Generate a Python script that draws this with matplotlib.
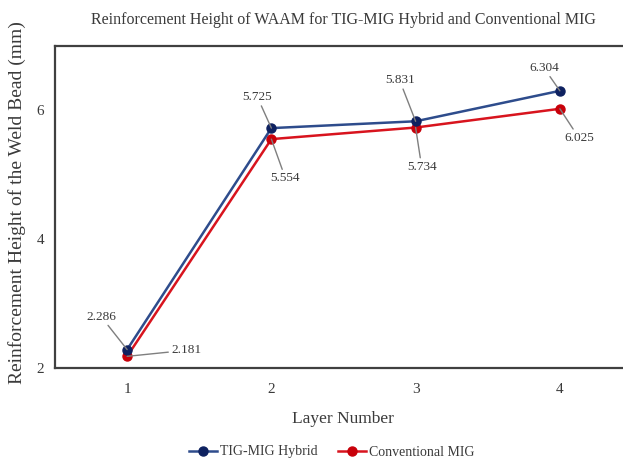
import matplotlib
matplotlib.use('Agg')
import matplotlib.pyplot as plt

W, H = 623, 462

layers = [1, 2, 3, 4]
hybrid = [2.286, 5.725, 5.831, 6.304]
conventional = [2.181, 5.554, 5.734, 6.025]

# label offsets in pixels (text centre minus data point)
hybrid_off = [(-26, 33), (-14, 31), (-16, 41), (-16, 23)]
conv_off = [(59, 6), (14, -39), (6, -39), (19, -29)]

BLUE_LINE = '#2E4C8C'
BLUE_MARK = '#0E2160'
RED_LINE = '#D8141E'
RED_MARK = '#C8000A'
TXT = '#3A3A3A'
SPINE = '#404040'

plt.rcParams['font.family'] = ['Liberation Serif', 'DejaVu Serif']

fig = plt.figure(figsize=(W / 100, H / 100), dpi=100)
left, right, top, bottom = 55, 632, 46, 368
ax = fig.add_axes([left / W, 1 - bottom / H, (right - left) / W, (bottom - top) / H])

ax.plot(layers, hybrid, '-o', color=BLUE_LINE, lw=1.8, marker='o', ms=6.5,
        mfc=BLUE_MARK, mec=BLUE_MARK, label='TIG-MIG Hybrid', zorder=4)
ax.plot(layers, conventional, '-o', color=RED_LINE, lw=1.8, marker='o', ms=6.5,
        mfc=RED_MARK, mec=RED_MARK, label='Conventional MIG', zorder=3)

for vals, offs in ((hybrid, hybrid_off), (conventional, conv_off)):
    for x, v, (dx, dy) in zip(layers, vals, offs):
        ax.annotate(f'{v:.3f}', xy=(x, v), xytext=(dx, dy), textcoords='offset pixels',
                    ha='center', va='center', fontsize=9.5, color=TXT,
                    arrowprops=dict(arrowstyle='-', color='#7F7F7F', lw=1.0,
                                    shrinkA=0, shrinkB=0), zorder=5)

ax.set_xlim(0.5, 4.5)
ax.set_ylim(2, 7)
ax.set_xticks(layers)
ax.set_yticks([2, 4, 6])
ax.tick_params(length=0, labelsize=11, colors=TXT)
ax.tick_params(axis='x', pad=11)
ax.tick_params(axis='y', pad=8)
for s in ('top', 'left', 'bottom'):
    ax.spines[s].set_color(SPINE)
    ax.spines[s].set_linewidth(1.6)
ax.spines['right'].set_visible(False)

fig.text(343 / W, 1 - 20 / H, 'Reinforcement Height of WAAM for TIG-MIG Hybrid and Conventional MIG',
         ha='center', va='center', fontsize=11.5, color=TXT)
fig.text(343 / W, 1 - 419 / H, 'Layer Number', ha='center', va='center',
         fontsize=12.5, color=TXT)
fig.text(17 / W, 1 - 203 / H, 'Reinforcement Height of the Weld Bead (mm)', ha='center',
         va='center', rotation=90, fontsize=14, color=TXT)

leg = fig.legend(loc='center', bbox_to_anchor=(332 / W, 1 - 452 / H), ncol=2,
                 frameon=False, fontsize=10, handlelength=2.0, handletextpad=0.2,
                 columnspacing=1.5, labelcolor=TXT)

fig.savefig('out.png', dpi=100)
